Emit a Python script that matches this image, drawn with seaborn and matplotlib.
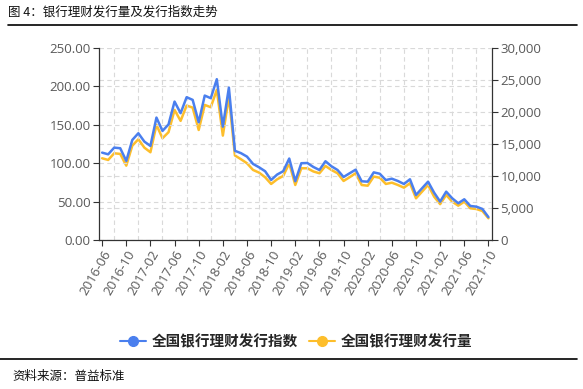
import numpy as np
import pandas as pd
import matplotlib
matplotlib.use("Agg")
import matplotlib.pyplot as plt
import seaborn as sns
from matplotlib.lines import Line2D

# DATA (monthly, 2016-06 .. 2021-10)
months = pd.period_range("2016-06", "2021-10", freq="M").strftime("%Y-%m").tolist()

issue_index = [113.7, 111.5, 120.2, 119.4, 102.9, 130.2, 138.9, 128.0, 122.4, 159.3,
               141.9, 150.4, 180.1, 165.0, 185.8, 182.3, 153.2, 187.9, 184.5, 209.2,
               147.5, 198.3, 116.1, 113.0, 108.5, 99.0, 94.6, 89.5, 78.1, 85.2,
               89.5, 106.0, 76.5, 99.9, 100.2, 95.0, 91.1, 102.5, 95.9, 91.1,
               82.0, 86.8, 91.5, 76.4, 75.9, 88.0, 86.2, 78.0, 79.8, 76.8,
               72.9, 79.0, 58.6, 67.3, 75.9, 61.6, 50.0, 62.9, 54.3, 47.8,
               53.0, 44.3, 43.4, 40.4, 29.8]

issue_volume = [12760, 12500, 13540, 13440, 11610, 14730, 15730, 14420, 13700, 17970,
                15890, 16830, 20310, 18600, 20990, 20670, 17180, 21090, 20730, 23440,
                16300, 22390, 13200, 12610, 11980, 10940, 10520, 9800, 8750, 9480,
                10000, 11980, 8590, 11200, 11200, 10700, 10420, 11560, 10930, 10420,
                9220, 9800, 10420, 8590, 8480, 9900, 9720, 8750, 8950, 8590,
                8170, 8860, 6510, 7550, 8590, 6770, 5600, 7030, 5990, 5360,
                5990, 4950, 4840, 4530, 3390]

index_name = "全国银行理财发行指数"
volume_name = "全国银行理财发行量"
title = "图 4：银行理财发行量及发行指数走势"
source = "资料来源：普益标准"

blue = "#4A7FEE"
yellow = "#FDBE2B"

df = pd.DataFrame({"pos": np.arange(len(months)), "month": months,
                   "index": issue_index, "volume": issue_volume})

sns.set_theme(style="white")
plt.rcParams["font.family"] = ["Noto Sans CJK SC", "DejaVu Sans"]

fig = plt.figure(figsize=(5.83, 3.89), dpi=100)
ax = fig.add_axes([0.170, 0.383, 0.674, 0.494])
ax2 = ax.twinx()

sns.lineplot(data=df, x="pos", y="volume", ax=ax2, color=yellow, lw=1.8)
sns.lineplot(data=df, x="pos", y="index", ax=ax, color=blue, lw=1.8)
ax.set_zorder(ax2.get_zorder() + 1)
ax.patch.set_visible(False)

ax.set_xlim(-0.5, len(months) - 0.4)
ax.set_ylim(0, 250)
ax2.set_ylim(0, 30000)

# ticks
ax.set_xticks(df["pos"][::4])
ax.set_xticklabels(df["month"][::4], rotation=60, ha="right", rotation_mode="anchor")
ax.set_xticks(df["pos"][2::4], minor=True)
ax.set_yticks(np.arange(0, 251, 50))
ax.set_yticklabels([f"{v:.2f}" for v in np.arange(0, 251, 50)])
ax2.set_yticks(np.arange(0, 30001, 5000))
ax2.set_yticklabels([f"{v:,}" for v in np.arange(0, 30001, 5000)])

for a in (ax, ax2):
    a.set_xlabel("")
    a.set_ylabel("")
    a.tick_params(axis="both", which="major", length=4, width=0.8, color="#333333",
                  labelsize=9.5, labelcolor="#595959", pad=2)
    a.tick_params(axis="x", which="minor", length=0)
    for s in a.spines.values():
        s.set_visible(False)
ax.tick_params(axis="y", left=True, right=False)
ax.tick_params(axis="x", bottom=True)
ax2.tick_params(axis="y", right=True, left=False)
ax.spines["left"].set_visible(True)
ax.spines["bottom"].set_visible(True)
ax2.spines["right"].set_visible(True)
for s in (ax.spines["left"], ax.spines["bottom"], ax2.spines["right"]):
    s.set_color("#333333")
    s.set_linewidth(0.9)

for lab in ax.get_yticklabels() + ax2.get_yticklabels() + ax.get_xticklabels():
    lab.set_family(["Open Sans", "DejaVu Sans"])

# dashed grids
grid_kw = dict(color="#d9d9d9", linestyle=(0, (4, 3)), linewidth=0.8)
ax.grid(axis="y", which="major", **grid_kw)
ax.grid(axis="x", which="minor", **grid_kw)
ax2.grid(axis="y", which="major", **grid_kw)
ax.set_axisbelow(True)
ax2.set_axisbelow(True)

# title, rules, legend, source
fig.text(8 / 583, 1 - 12 / 389, title, fontsize=9, va="center", ha="left", color="#111111")
fig.add_artist(Line2D([8 / 583, 0.99], [1 - 25 / 389] * 2, color="black", lw=1.2))
fig.add_artist(Line2D([0.0, 0.99], [1 - 359 / 389] * 2, color="black", lw=1.2))
fig.text(12 / 583, 1 - 376 / 389, source, fontsize=9, va="center", ha="left", color="#111111")

handles = [Line2D([], [], color=blue, lw=1.5, marker="o", markersize=7),
           Line2D([], [], color=yellow, lw=1.5, marker="o", markersize=7)]
fig.legend(handles, [index_name, volume_name], loc="center",
           bbox_to_anchor=(0.508, 1 - 341 / 389), ncol=2, frameon=False,
           handlelength=1.8, handletextpad=0.4, columnspacing=0.7,
           prop={"family": ["Noto Sans CJK SC", "DejaVu Sans"], "weight": "bold", "size": 10.5})

fig.savefig("out.png", dpi=100)
